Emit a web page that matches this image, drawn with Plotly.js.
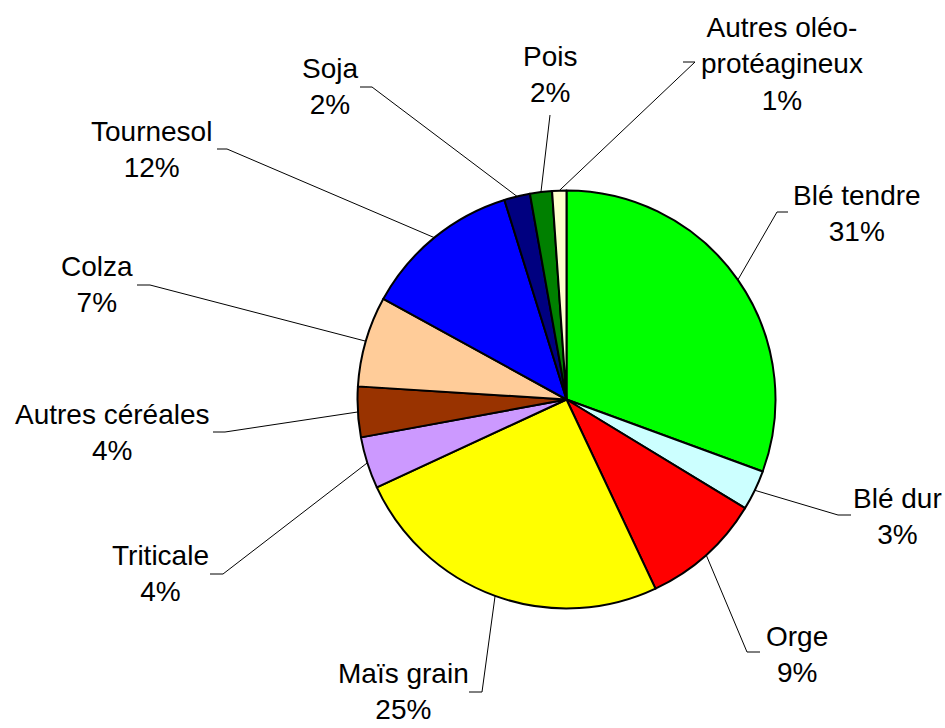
<!DOCTYPE html>
<html>
<head>
<meta charset="utf-8">
<script src="https://cdn.plot.ly/plotly-3.0.1.min.js"></script>
<style>html,body{margin:0;padding:0;background:#fff;}#chart{width:945px;height:728px;}</style>
</head>
<body>
<div id="chart"></div>
<script>
// ---- data ----
const categories = ["Blé tendre", "Blé dur", "Orge", "Maïs grain", "Triticale", "Autres céréales", "Colza", "Tournesol", "Soja", "Pois", "Autres oléo-protéagineux"];
const values = [30.6, 3.1, 9.3, 25.1, 4.0, 3.9, 7.0, 12.2, 2.0, 1.7, 1.1];

// ---- style ----
const colors = ["#00FF00", "#CCFFFF", "#FF0000", "#FFFF00", "#CC99FF", "#993300", "#FFCC99", "#0000FF", "#000080", "#008000", "#FFFFCC"];

// ---- layout config (pixels) ----
const W = 945, H = 728;
const pieCx = 566.5, pieCy = 399.5, pieR = 209;
const labelCenters = [[857,213],[897,516],[797,654],[403,691],[160,573],[112,432],[97,285],[151,150],[330,86],[550,75],[782,64]];
// [elbowX, endX, y] of each leader line's horizontal part
const leaders = [[777,788,212],[838,851,515],[747,760,652],[482,469,692],[223,210,574],[225,213,432],[150,137,285],[227,217,149],[372,360,87],[550,550,115],[695,683,62]];

const px = x => x / W;
const py = y => 1 - y / H;

const total = values.reduce((a, b) => a + b, 0);
const annotations = [];
const shapes = [];
let cum = 0;
values.forEach((v, i) => {
  const mid = (cum + v / 2) / total * 2 * Math.PI;
  cum += v;
  const sx = pieCx + pieR * Math.sin(mid);
  const sy = pieCy - pieR * Math.cos(mid);
  const [ex, hx, ly] = leaders[i];
  shapes.push({
    type: 'path', xref: 'paper', yref: 'paper',
    path: `M ${px(sx)},${py(sy)} L ${px(ex)},${py(ly)} L ${px(hx)},${py(ly)}`,
    line: {color: '#000', width: 1}
  });
  const pct = Math.round(v / total * 100) + '%';
  annotations.push({
    xref: 'paper', yref: 'paper',
    x: px(labelCenters[i][0]), y: py(labelCenters[i][1]),
    xanchor: 'center', yanchor: 'middle',
    text: categories[i].replace('-', '-<br>') + '<br>' + pct,
    showarrow: false,
    font: {family: 'Liberation Sans, Arial, sans-serif', size: 28, color: '#000'}
  });
});

const trace = {
  type: 'pie',
  labels: categories,
  values: values,
  sort: false,
  direction: 'clockwise',
  rotation: 0,
  textinfo: 'none',
  hoverinfo: 'label+percent',
  marker: {colors: colors, line: {color: '#000', width: 2}},
  domain: {
    x: [(pieCx - pieR) / W, (pieCx + pieR) / W],
    y: [(H - pieCy - pieR) / H, (H - pieCy + pieR) / H]
  },
  showlegend: false
};

const layout = {
  width: W, height: H,
  margin: {l: 0, r: 0, t: 0, b: 0},
  paper_bgcolor: '#fff',
  showlegend: false,
  annotations: annotations,
  shapes: shapes
};

Plotly.newPlot('chart', [trace], layout, {displayModeBar: false, staticPlot: true});
</script>
</body>
</html>
